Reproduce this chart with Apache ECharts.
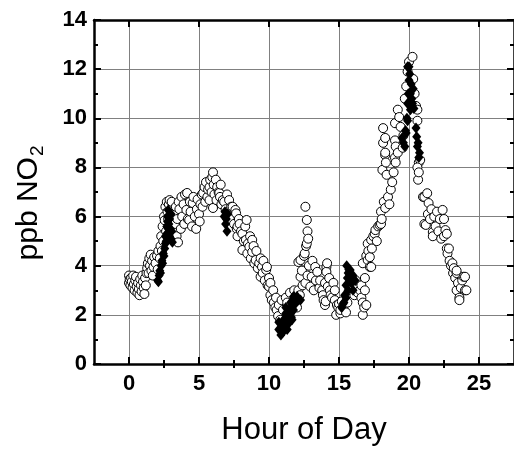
<!DOCTYPE html>
<html>
<head>
<meta charset="utf-8">
<script src="https://cdn.jsdelivr.net/npm/echarts@6/dist/echarts.min.js"></script>
<style>
	html, body { margin: 0; padding: 0; background: #fff; }
	#chart { width: 514px; height: 454px; }
</style>
</head>
<body>
<div id="chart"></div>
<script>
// tick positions
const xMajorTicks = [0, 5, 10, 15, 20, 25]
const xMinorTicks = [2.5, 7.5, 12.5, 17.5, 22.5]

// open circles: [hour, ppb NO2]
const openPoints = [
	[0.0, 3.3], [0.0, 3.6], [0.05, 3.45], [0.1, 3.2], [0.15, 3.5], [0.2, 3.35], [0.25, 3.1], [0.3, 3.6],
	[0.35, 3.25], [0.4, 3.0], [0.45, 3.4], [0.5, 3.55], [0.55, 3.15], [0.6, 2.9], [0.65, 3.3], [0.7, 3.05],
	[0.75, 2.8], [0.8, 3.45], [0.85, 3.2], [0.9, 2.95], [0.95, 3.6], [1.0, 3.35], [1.05, 3.1], [1.1, 2.85],
	[1.15, 3.5], [1.2, 3.2], [1.25, 3.7],
	[1.3, 3.9], [1.35, 4.1], [1.4, 3.7], [1.45, 4.3], [1.5, 4.0], [1.55, 4.45], [1.6, 3.8], [1.65, 4.2],
	[1.7, 3.6], [1.75, 3.95], [1.8, 4.35], [1.9, 4.1], [2.0, 4.4], [2.05, 3.85], [2.1, 4.6], [2.2, 4.3],
	[2.25, 4.8], [2.3, 5.2], [2.35, 4.6], [2.4, 5.6], [2.45, 5.0], [2.5, 6.0], [2.55, 5.85], [2.6, 6.4],
	[2.65, 5.4], [2.7, 6.6], [2.75, 6.2], [2.8, 5.9], [2.85, 6.5], [2.9, 6.67], [3.0, 6.3], [3.05, 6.6], [3.1, 5.8],
	[3.2, 6.1], [3.3, 5.7], [3.35, 6.4], [3.4, 5.2], [3.45, 5.9], [3.5, 4.95], [3.55, 6.6], [3.6, 6.3],
	[3.7, 5.5], [3.75, 6.8], [3.8, 6.0], [3.9, 6.5], [3.95, 5.7], [4.0, 6.9], [4.1, 6.27], [4.15, 6.96],
	[4.2, 5.9], [4.3, 5.86], [4.35, 6.6], [4.4, 6.2], [4.5, 5.6], [4.55, 6.55], [4.6, 6.8], [4.7, 6.0],
	[4.8, 5.5], [4.85, 6.3], [4.9, 6.7], [5.0, 6.1], [5.05, 5.8],
	[5.1, 6.5], [5.2, 6.9], [5.25, 6.4], [5.3, 6.96], [5.4, 7.2], [5.45, 6.6], [5.5, 7.4], [5.6, 6.8],
	[5.65, 7.1], [5.75, 7.2], [5.75, 6.67], [5.8, 7.5], [5.9, 7.0], [5.95, 7.6], [6.0, 7.8], [6.0, 6.35],
	[6.05, 7.3], [6.1, 6.9], [6.2, 7.5], [6.25, 6.67], [6.3, 7.2], [6.4, 7.0], [6.45, 6.96], [6.5, 6.8],
	[6.55, 7.3], [6.6, 6.5], [6.7, 6.67],
	[6.8, 6.6], [6.9, 6.3], [7.0, 6.9], [7.1, 6.2], [7.15, 6.67], [7.2, 5.9], [7.3, 6.4], [7.4, 6.4],
	[7.5, 5.7], [7.6, 6.27], [7.65, 6.13], [7.7, 5.5], [7.75, 5.6], [7.75, 5.2], [7.85, 5.9], [7.9, 5.7],
	[8.0, 5.4], [8.1, 5.3], [8.1, 4.64], [8.2, 5.0], [8.3, 5.6], [8.35, 5.05], [8.4, 5.86], [8.45, 4.5],
	[8.5, 4.9], [8.6, 4.77], [8.65, 5.2], [8.7, 4.3], [8.8, 4.56], [8.8, 5.05], [8.9, 4.8], [8.95, 4.1],
	[9.05, 4.23], [9.1, 4.6], [9.2, 3.9], [9.3, 4.1], [9.4, 4.3], [9.4, 3.55], [9.5, 3.95], [9.55, 3.7],
	[9.6, 4.2], [9.7, 3.4], [9.8, 3.83], [9.85, 3.95], [9.9, 3.2], [10.0, 3.15], [10.0, 3.5], [10.1, 2.8],
	[10.1, 3.3], [10.2, 2.6], [10.3, 3.0], [10.35, 2.5], [10.45, 2.3], [10.5, 2.7], [10.55, 2.2], [10.65, 1.95],
	[10.7, 2.4], [10.8, 1.8],
	[10.9, 2.6], [11.0, 2.2], [11.1, 1.6], [11.2, 2.7], [11.3, 2.5], [11.45, 1.9], [11.5, 2.9], [11.6, 2.2],
	[11.7, 2.5], [11.8, 3.0], [11.9, 2.7], [12.0, 2.3], [12.1, 3.0], [12.1, 4.15], [12.2, 2.8],
	[12.25, 3.55], [12.25, 4.23], [12.35, 3.8], [12.4, 3.2], [12.5, 4.4], [12.55, 4.5], [12.6, 6.4], [12.6, 3.3],
	[12.65, 4.8], [12.7, 5.86], [12.7, 4.9], [12.75, 5.4], [12.75, 3.6], [12.8, 5.1], [12.85, 4.0], [12.95, 3.15],
	[13.05, 3.55], [13.1, 4.2], [13.2, 3.0], [13.3, 3.95], [13.35, 3.4], [13.45, 3.75],
	[13.6, 3.1], [13.65, 3.4], [13.8, 3.0], [13.85, 2.8], [13.9, 2.6], [14.0, 3.3], [14.0, 2.4], [14.05, 2.55],
	[14.1, 3.95], [14.1, 3.75], [14.15, 4.1], [14.2, 3.15], [14.3, 3.5], [14.35, 3.0], [14.4, 2.8], [14.5, 2.7],
	[14.6, 3.3], [14.7, 2.6], [14.7, 3.0], [14.8, 2.0], [14.85, 2.4], [14.95, 2.3], [15.0, 2.45], [15.1, 2.06],
	[15.1, 2.2], [15.2, 2.55], [15.3, 2.3],
	[15.5, 2.1], [15.6, 2.5], [15.8, 3.0], [16.0, 3.3], [16.1, 2.8], [16.2, 3.15], [16.2, 3.4], [16.35, 2.9],
	[16.5, 3.0], [16.6, 2.7], [16.6, 3.2], [16.7, 2.5], [16.7, 2.0], [16.8, 2.3], [16.85, 3.5], [16.95, 2.4],
	[16.85, 3.0],
	[16.7, 4.1], [16.95, 4.4], [17.05, 4.9], [17.05, 4.23], [17.1, 4.6], [17.2, 3.95], [17.2, 4.35], [17.3, 5.05],
	[17.3, 3.95], [17.35, 4.7], [17.45, 5.2], [17.55, 5.3], [17.6, 5.45], [17.7, 5.0], [17.8, 5.6], [17.9, 5.66],
	[18.0, 5.7], [18.0, 6.2], [18.05, 5.9],
	[18.1, 7.9], [18.15, 9.6], [18.15, 9.0], [18.2, 6.6], [18.3, 6.35], [18.3, 8.5], [18.3, 9.2], [18.3, 8.6],
	[18.35, 8.2], [18.4, 7.7], [18.5, 6.8], [18.6, 6.5], [18.7, 7.1], [18.8, 7.4], [18.9, 7.8], [19.0, 8.4],
	[19.0, 9.1], [19.0, 9.8], [19.05, 8.2], [19.05, 8.85], [19.2, 8.6], [19.2, 10.35], [19.3, 10.05],
	[19.4, 9.65], [19.55, 8.8], [19.6, 9.3],
	[19.7, 10.8], [19.8, 11.3], [19.9, 11.9], [20.0, 12.3], [20.25, 12.5], [20.3, 11.6], [20.4, 11.0],
	[20.5, 10.5], [20.6, 10.35], [20.6, 9.9], [20.7, 8.2], [20.8, 8.3], [20.6, 8.0], [20.65, 7.5], [20.7, 7.8],
	[21.0, 6.8], [21.1, 6.8], [21.1, 5.7], [21.2, 5.66], [21.3, 6.95], [21.35, 6.1], [21.4, 6.55], [21.5, 5.9],
	[21.6, 6.3], [21.7, 5.37], [21.7, 5.2], [21.8, 6.0], [21.9, 5.6], [22.0, 6.2], [22.1, 5.4], [22.2, 5.9],
	[22.3, 5.1], [22.4, 6.27], [22.5, 5.9], [22.5, 5.2], [22.6, 5.45],
	[22.7, 5.3], [22.7, 4.7], [22.75, 4.5], [22.85, 4.7], [22.9, 4.2], [23.0, 4.0], [23.1, 4.1], [23.15, 3.7],
	[23.2, 3.9], [23.3, 3.5], [23.4, 3.7], [23.4, 3.8], [23.4, 3.0], [23.5, 3.3], [23.6, 2.7], [23.6, 2.6],
	[23.7, 3.1], [23.8, 3.4], [23.9, 3.55], [24.0, 3.0], [24.1, 3.0], [24.0, 3.55],
]

// filled diamonds: [hour, ppb NO2]
const diamondPoints = [
	[2.05, 3.4], [2.1, 3.35], [2.15, 3.6], [2.2, 3.8], [2.25, 3.7], [2.3, 4.0], [2.35, 4.2], [2.4, 4.1],
	[2.45, 4.5], [2.5, 4.4], [2.55, 4.7], [2.6, 4.9], [2.6, 5.2], [2.65, 5.0], [2.7, 5.6], [2.7, 5.3],
	[2.75, 5.8], [2.75, 6.0], [2.8, 6.27], [2.8, 5.5], [2.85, 5.7], [2.9, 5.9], [2.9, 5.2], [2.95, 5.5],
	[3.0, 5.1], [3.05, 5.4], [3.1, 4.95], [3.0, 6.1],
	[6.8, 6.0], [6.85, 6.2], [6.9, 5.7], [6.95, 5.9], [7.0, 5.4], [7.05, 6.1],
	[10.7, 1.7], [10.7, 1.4], [10.85, 1.18], [10.95, 1.5], [11.0, 1.3], [11.05, 1.8], [11.1, 1.55], [11.2, 2.06],
	[11.2, 2.3], [11.25, 1.7], [11.3, 1.4], [11.35, 1.95], [11.4, 1.65], [11.5, 2.2], [11.55, 2.06], [11.55, 2.5],
	[11.6, 1.9], [11.65, 2.4], [11.65, 1.8], [11.75, 2.2], [11.75, 2.75], [11.8, 2.4], [11.9, 2.5], [12.0, 2.75],
	[12.1, 2.6], [12.25, 2.6],
	[15.2, 2.3], [15.3, 2.45], [15.35, 2.5], [15.4, 2.8], [15.5, 2.7], [15.5, 3.2], [15.55, 4.0], [15.6, 3.5],
	[15.65, 3.0], [15.65, 3.7], [15.7, 3.85], [15.8, 3.83], [15.8, 3.5], [15.9, 3.3], [16.0, 3.6], [16.0, 3.0],
	[16.15, 3.4],
	[19.5, 9.2], [19.6, 9.0], [19.7, 8.85], [19.75, 9.5], [19.8, 9.4], [19.85, 10.0], [19.9, 9.9], [19.9, 10.6],
	[19.95, 11.0], [20.0, 11.55], [20.0, 12.1], [19.9, 12.1], [20.05, 11.8], [20.1, 10.35], [20.1, 11.0],
	[20.15, 11.4], [20.2, 10.8], [20.25, 10.6], [20.3, 11.2], [20.35, 10.4], [20.5, 9.6], [20.55, 9.25],
	[20.6, 8.85], [20.65, 9.0], [20.7, 8.4], [20.75, 8.6],
]

const fontFamily = "'Liberation Sans', Arial, sans-serif"
const chartInstance = echarts.init(document.getElementById('chart'))

// 共用的轴样式
const boxLine = { show: true, onZero: false, lineStyle: { color: '#000', width: 2.5 } }
const xBase = { type: 'value', min: -2.5, max: 27.5 }

const option = {
	animation: false,
	backgroundColor: '#fff',
	grid: { left: 94, top: 20, right: -4, bottom: 90 },
	xAxis: [
		{
			...xBase,
			position: 'bottom',
			name: 'Hour of Day',
			nameLocation: 'middle',
			nameGap: 51,
			nameTextStyle: { fontFamily, fontSize: 31, color: '#000' },
			axisLine: boxLine,
			axisTick: { show: true, inside: true, length: 7, customValues: xMajorTicks, lineStyle: { color: '#000', width: 2 } },
			axisLabel: { customValues: xMajorTicks, fontFamily, fontSize: 22, fontWeight: 'bold', color: '#000', margin: 9 },
			splitLine: { show: true, lineStyle: { color: '#808080', width: 1 } },
		},
		{
			...xBase,
			position: 'bottom',
			axisLine: { show: false },
			axisTick: { show: true, inside: true, length: 4, customValues: xMinorTicks, lineStyle: { color: '#000', width: 2 } },
			axisLabel: { show: false },
			splitLine: { show: false },
		},
		{
			...xBase,
			position: 'top',
			axisLine: boxLine,
			axisTick: { show: true, inside: true, length: 7, customValues: xMajorTicks, lineStyle: { color: '#000', width: 2 } },
			axisLabel: { show: false },
			splitLine: { show: false },
		},
		{
			...xBase,
			position: 'top',
			axisLine: { show: false },
			axisTick: { show: true, inside: true, length: 4, customValues: xMinorTicks, lineStyle: { color: '#000', width: 2 } },
			axisLabel: { show: false },
			splitLine: { show: false },
		},
	],
	yAxis: [
		{
			type: 'value',
			position: 'left',
			min: 0,
			max: 14,
			interval: 2,
			name: 'ppb NO{sub|2}',
			nameLocation: 'middle',
			nameRotate: 90,
			nameGap: 47,
			nameTextStyle: {
				fontFamily,
				fontSize: 30,
				color: '#000',
				padding: [0, 22, 0, 0],
				rich: {
					sub: { fontFamily, fontSize: 19, color: '#000', verticalAlign: 'middle', padding: [18, 0, 0, 1] },
				},
			},
			axisLine: boxLine,
			axisTick: { show: true, inside: true, length: 7, lineStyle: { color: '#000', width: 2 } },
			minorTick: { show: true, splitNumber: 2, length: 4, lineStyle: { color: '#000', width: 2 } },
			axisLabel: { fontFamily, fontSize: 22, fontWeight: 'bold', color: '#000', margin: 7 },
			splitLine: { show: true, lineStyle: { color: '#808080', width: 1 } },
		},
		{
			type: 'value',
			position: 'right',
			min: 0,
			max: 14,
			interval: 2,
			axisLine: boxLine,
			axisTick: { show: true, inside: true, length: 7, lineStyle: { color: '#000', width: 2 } },
			minorTick: { show: true, splitNumber: 2, length: 4, lineStyle: { color: '#000', width: 2 } },
			axisLabel: { show: false },
			splitLine: { show: false },
		},
	],
	series: [
		{
			type: 'scatter',
			name: 'open',
			xAxisIndex: 0,
			yAxisIndex: 0,
			symbol: 'circle',
			symbolSize: 9,
			data: openPoints,
			itemStyle: { color: '#fff', borderColor: '#000', borderWidth: 1, opacity: 1 },
		},
		{
			type: 'scatter',
			name: 'diamond',
			xAxisIndex: 0,
			yAxisIndex: 0,
			symbol: 'diamond',
			symbolSize: [9, 11],
			data: diamondPoints,
			itemStyle: { color: '#000', opacity: 1 },
		},
	],
}
chartInstance.setOption(option)
</script>
</body>
</html>
